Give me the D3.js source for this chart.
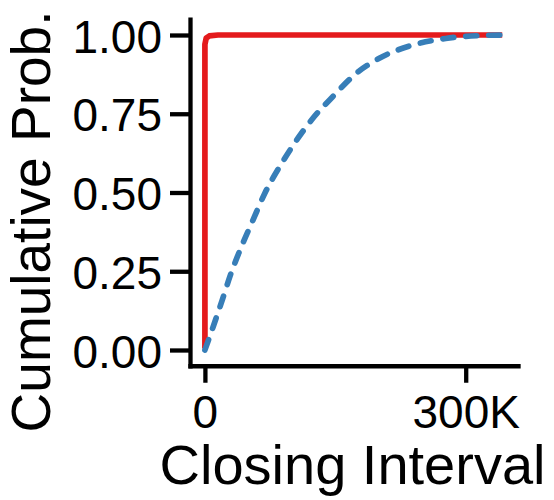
<!DOCTYPE html>
<html>
<head>
<meta charset="utf-8">
<script src="https://cdn.jsdelivr.net/npm/d3@7"></script>
<style>
  html, body { margin: 0; padding: 0; background: #fff; }
  svg { display: block; }
  text { font-family: "Liberation Sans", Arial, Helvetica, sans-serif; fill: #000; }
</style>
</head>
<body>
<svg id="chart" width="554" height="500"></svg>
<script>
// ---- data ----
const xTickValues = [0, 300000];
const xTickLabels = ["0", "300K"];
const yTickValues = [0, 0.25, 0.5, 0.75, 1];
const yTickLabels = ["0.00", "0.25", "0.50", "0.75", "1.00"];
const xTitle = "Closing Interval";
const yTitle = "Cumulative Prob.";

// red series (solid)
const redX = [0, 0, 1500, 5000, 15000, 342000];
const redY = [0.005, 0.97, 0.99, 0.997, 1.0, 1.0];

// blue series (dashed)
const blueX = [0, 9500, 20000, 28700, 42000, 55400, 68800, 86000, 103000, 124000, 147000, 174000, 200600, 238800, 277000, 315000, 343000];
const blueY = [0, 0.074, 0.159, 0.233, 0.328, 0.413, 0.497, 0.582, 0.656, 0.735, 0.804, 0.878, 0.926, 0.968, 0.989, 0.998, 1.0];

// ---- scales ----
const xMin = 0, xMax = 343000;
const xPad = (xMax - xMin) * 0.05;
const x = d3.scaleLinear().domain([xMin - xPad, xMax + xPad]).range([190, 518]);
const y = d3.scaleLinear().domain([-0.05, 1.05]).range([365.75, 19.25]);

const svg = d3.select("#chart");
svg.append("rect").attr("width", 554).attr("height", 500).attr("fill", "#fff");

// ---- lines ----
const redData = redX.map((v, i) => [v, redY[i]]);
const blueData = blueX.map((v, i) => [v, blueY[i]]);

svg.append("path")
  .datum(redData)
  .attr("fill", "none")
  .attr("stroke", "#E41A1C")
  .attr("stroke-width", 5.7)
  .attr("stroke-linejoin", "round")
  .attr("d", d3.line().x(d => x(d[0])).y(d => y(d[1])).curve(d3.curveLinear));

svg.append("path")
  .datum(blueData)
  .attr("fill", "none")
  .attr("stroke", "#377EB8")
  .attr("stroke-width", 5.7)
  .attr("stroke-linecap", "round")
  .attr("stroke-dasharray", "11,12")
  .attr("d", d3.line().x(d => x(d[0])).y(d => y(d[1])).curve(d3.curveMonotoneX));

// ---- axes ----
const yAxis = d3.axisLeft(y)
  .tickValues(yTickValues)
  .tickFormat((d, i) => yTickLabels[i])
  .tickSize(20)
  .tickSizeOuter(0);

const gy = svg.append("g").attr("transform", "translate(190,0)").call(yAxis);
gy.attr("font-family", null).attr("font-size", null);
gy.select(".domain").attr("stroke", "#000").attr("stroke-width", 4.3).attr("stroke-linecap", "square");
gy.selectAll(".tick line").attr("stroke", "#000").attr("stroke-width", 4.3);
gy.selectAll(".tick text")
  .attr("x", -28).attr("dy", null).attr("y", 17)
  .attr("text-anchor", "end")
  .style("font-size", "46px")
  .attr("fill", "#000");

const xAxis = d3.axisBottom(x)
  .tickValues(xTickValues)
  .tickFormat((d, i) => xTickLabels[i])
  .tickSize(17)
  .tickSizeOuter(0);

const gx = svg.append("g").attr("transform", "translate(0,365.75)").call(xAxis);
gx.attr("font-family", null).attr("font-size", null);
gx.select(".domain").attr("stroke", "#000").attr("stroke-width", 4.3).attr("stroke-linecap", "square");
gx.selectAll(".tick line").attr("stroke", "#000").attr("stroke-width", 4.3);
gx.selectAll(".tick text")
  .attr("y", 62).attr("dy", null)
  .attr("text-anchor", "middle")
  .style("font-size", "46px")
  .attr("fill", "#000");

// ---- titles ----
svg.append("text")
  .attr("text-anchor", "middle")
  .attr("transform", "translate(352.5,484)")
  .style("font-size", "56px")
  .text(xTitle);

svg.append("text")
  .attr("text-anchor", "middle")
  .attr("transform", "translate(49.5,221.5) rotate(-90)")
  .style("font-size", "55px")
  .text(yTitle);
</script>
</body>
</html>
